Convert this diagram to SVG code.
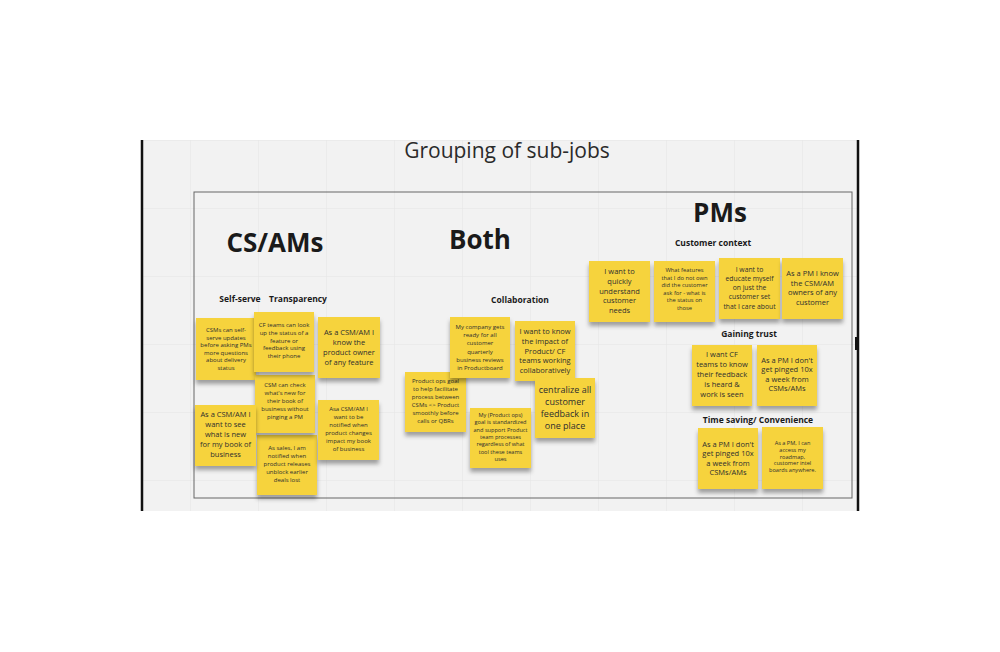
<svg xmlns="http://www.w3.org/2000/svg" width="1000" height="652" viewBox="0 0 1000 652">
<style>
.note rect{fill:#f6d33c;filter:url(#sh)}
.note text{font-family:"Open Sans","Noto Sans","Liberation Sans",sans-serif;fill:#2e2e2e;text-anchor:middle}
.hd{font-family:"Open Sans","Noto Sans","Liberation Sans",sans-serif;font-weight:700;fill:#1a1a1a;text-anchor:middle}
.sub{font-family:"Open Sans","Noto Sans","Liberation Sans",sans-serif;font-weight:700;font-size:8.5px;fill:#1a1a1a;text-anchor:middle}
.s6{font-size:6px}.s55{font-size:5.6px}.s58{font-size:5.8px}.s68{font-size:6.8px}.s75{font-size:7.5px}.s9{font-size:9px}
</style>
<defs>
<filter id="sh" x="-20%" y="-20%" width="140%" height="150%"><feDropShadow dx="0" dy="4" stdDeviation="2.2" flood-color="#000" flood-opacity="0.35"/></filter>
<pattern id="grid" x="190" y="140" width="68" height="68" patternUnits="userSpaceOnUse"><path d="M0 0V68M0 0H68" fill="none" stroke="#e4e4e4" stroke-width="1"/></pattern>
</defs>
<rect width="1000" height="652" fill="#fff"/>
<g id="board">
<rect x="142" y="140" width="716" height="371" fill="#f2f2f2"/>
<rect x="142" y="140" width="716" height="371" fill="url(#grid)"/>
<line x1="142" y1="140" x2="142" y2="511" stroke="#111" stroke-width="2.5"/>
<line x1="858" y1="140" x2="858" y2="511" stroke="#111" stroke-width="2.5"/>
<rect x="855" y="337" width="3" height="13" fill="#111"/>
<rect x="194" y="192" width="658" height="306" fill="none" stroke="#666" stroke-width="1"/>
<text x="507" y="158" font-family="'Open Sans','Noto Sans','Liberation Sans',sans-serif" font-size="21" fill="#2a2a2a" text-anchor="middle">Grouping of sub-jobs</text>
</g>
<g id="headers">
<text class="hd" x="275" y="252" font-size="26">CS/AMs</text>
<text class="hd" x="480" y="249" font-size="26">Both</text>
<text class="hd" x="720" y="222" font-size="26">PMs</text>
<text class="sub" x="240" y="302">Self-serve</text>
<text class="sub" x="298" y="302">Transparency</text>
<text class="sub" x="520" y="303">Collaboration</text>
<text class="sub" x="713" y="246">Customer context</text>
<text class="sub" x="749" y="337">Gaining trust</text>
<text class="sub" x="758" y="423">Time saving/ Convenience</text>
</g>
<g id="connectors"/>
<g id="note1" class="note"><rect x="196" y="318" width="60" height="62"/><text class="s6"><tspan x="226" y="332.4">CSMs can self-</tspan><tspan x="226" dy="7.5">serve updates</tspan><tspan x="226" dy="7.5">before asking PMs</tspan><tspan x="226" dy="7.5">more questions</tspan><tspan x="226" dy="7.5">about delivery</tspan><tspan x="226" dy="7.5">status</tspan></text></g>
<g id="note6" class="note"><rect x="257" y="435" width="60" height="60"/><text class="s6"><tspan x="287" y="450">As sales, I am</tspan><tspan x="287" dy="8">notified when</tspan><tspan x="287" dy="8">product releases</tspan><tspan x="287" dy="8">unblock earlier</tspan><tspan x="287" dy="8">deals lost</tspan></text></g>
<g id="note4" class="note"><rect x="255" y="375" width="60" height="58"/><text class="s6"><tspan x="285" y="387">CSM can check</tspan><tspan x="285" dy="8">what's new for</tspan><tspan x="285" dy="8">their book of</tspan><tspan x="285" dy="8">business without</tspan><tspan x="285" dy="8">pinging a PM</tspan></text></g>
<g id="note2" class="note"><rect x="254" y="312" width="60" height="60"/><text class="s6"><tspan x="284" y="327">CF teams can look</tspan><tspan x="284" dy="7.8">up the status of a</tspan><tspan x="284" dy="7.8">feature or</tspan><tspan x="284" dy="7.8">feedback using</tspan><tspan x="284" dy="7.8">their phone</tspan></text></g>
<g id="note3" class="note"><rect x="318" y="317" width="62" height="61"/><text class="s75"><tspan x="349" y="335.2">As a CSM/AM I</tspan><tspan x="349" dy="10">know the</tspan><tspan x="349" dy="10">product owner</tspan><tspan x="349" dy="10">of any feature</tspan></text></g>
<g id="note5" class="note"><rect x="195" y="405" width="61" height="61"/><text class="s75"><tspan x="225.5" y="417">As a CSM/AM I</tspan><tspan x="225.5" dy="10">want to see</tspan><tspan x="225.5" dy="10">what is new</tspan><tspan x="225.5" dy="10">for my book of</tspan><tspan x="225.5" dy="10">business</tspan></text></g>
<g id="note7" class="note"><rect x="318" y="400" width="61" height="60"/><text class="s6"><tspan x="348.5" y="411">Asa CSM/AM I</tspan><tspan x="348.5" dy="8">want to be</tspan><tspan x="348.5" dy="8">notified when</tspan><tspan x="348.5" dy="8">product changes</tspan><tspan x="348.5" dy="8">impact my book</tspan><tspan x="348.5" dy="8">of business</tspan></text></g>
<g id="note10" class="note"><rect x="405" y="372" width="61" height="60"/><text class="s6"><tspan x="435.5" y="383">Product ops goal</tspan><tspan x="435.5" dy="8">to help facilitate</tspan><tspan x="435.5" dy="8">process between</tspan><tspan x="435.5" dy="8">CSMs &lt;&gt; Product</tspan><tspan x="435.5" dy="8">smoothly before</tspan><tspan x="435.5" dy="8">calls or QBRs</tspan></text></g>
<g id="note8" class="note"><rect x="450" y="317" width="60" height="61"/><text class="s6"><tspan x="480" y="329">My company gets</tspan><tspan x="480" dy="8.2">ready for all</tspan><tspan x="480" dy="8.2">customer</tspan><tspan x="480" dy="8.2">quarterly</tspan><tspan x="480" dy="8.2">business reviews</tspan><tspan x="480" dy="8.2">in Productboard</tspan></text></g>
<g id="note9" class="note"><rect x="515" y="321" width="60" height="60"/><text class="s75"><tspan x="545" y="334">I want to know</tspan><tspan x="545" dy="9.8">the impact of</tspan><tspan x="545" dy="9.8">Product/ CF</tspan><tspan x="545" dy="9.8">teams working</tspan><tspan x="545" dy="9.8">collaboratively</tspan></text></g>
<g id="note11" class="note"><rect x="535" y="378" width="60" height="60"/><text class="s9"><tspan x="565" y="392.5">centralize all</tspan><tspan x="565" dy="12">customer</tspan><tspan x="565" dy="12">feedback in</tspan><tspan x="565" dy="12">one place</tspan></text></g>
<g id="note12" class="note"><rect x="470" y="408" width="61" height="60"/><text class="s55"><tspan x="500.5" y="417">My (Product ops)</tspan><tspan x="500.5" dy="7.3">goal is standardized</tspan><tspan x="500.5" dy="7.3">and support Product</tspan><tspan x="500.5" dy="7.3">team processes</tspan><tspan x="500.5" dy="7.3">regardless of what</tspan><tspan x="500.5" dy="7.3">tool these teams</tspan><tspan x="500.5" dy="7.3">uses</tspan></text></g>
<g id="note13" class="note"><rect x="589" y="261" width="61" height="61"/><text class="s75"><tspan x="619.5" y="274">I want to</tspan><tspan x="619.5" dy="9.8">quickly</tspan><tspan x="619.5" dy="9.8">understand</tspan><tspan x="619.5" dy="9.8">customer</tspan><tspan x="619.5" dy="9.8">needs</tspan></text></g>
<g id="note14" class="note"><rect x="654" y="261" width="61" height="61"/><text class="s58"><tspan x="684.5" y="272">What features</tspan><tspan x="684.5" dy="7.6">that I do not own</tspan><tspan x="684.5" dy="7.6">did the customer</tspan><tspan x="684.5" dy="7.6">ask for - what is</tspan><tspan x="684.5" dy="7.6">the status on</tspan><tspan x="684.5" dy="7.6">those</tspan></text></g>
<g id="note15" class="note"><rect x="719" y="258" width="61" height="61"/><text class="s68"><tspan x="749.5" y="271.5">I want to</tspan><tspan x="749.5" dy="9.3">educate myself</tspan><tspan x="749.5" dy="9.3">on just the</tspan><tspan x="749.5" dy="9.3">customer set</tspan><tspan x="749.5" dy="9.3">that I care about</tspan></text></g>
<g id="note16" class="note"><rect x="782" y="258" width="61" height="61"/><text class="s75"><tspan x="812.5" y="276">As a PM I know</tspan><tspan x="812.5" dy="9.7">the CSM/AM</tspan><tspan x="812.5" dy="9.7">owners of any</tspan><tspan x="812.5" dy="9.7">customer</tspan></text></g>
<g id="note17" class="note"><rect x="692" y="345" width="60" height="61"/><text class="s75"><tspan x="722" y="357">I want CF</tspan><tspan x="722" dy="10">teams to know</tspan><tspan x="722" dy="10">their feedback</tspan><tspan x="722" dy="10">is heard &amp;</tspan><tspan x="722" dy="10">work is seen</tspan></text></g>
<g id="note18" class="note"><rect x="757" y="345" width="60" height="61"/><text class="s75"><tspan x="787" y="362.5">As a PM I don't</tspan><tspan x="787" dy="9.6">get pinged 10x</tspan><tspan x="787" dy="9.6">a week from</tspan><tspan x="787" dy="9.6">CSMs/AMs</tspan></text></g>
<g id="note19" class="note"><rect x="698" y="428" width="60" height="61"/><text class="s75"><tspan x="728" y="446.5">As a PM I don't</tspan><tspan x="728" dy="9.6">get pinged 10x</tspan><tspan x="728" dy="9.6">a week from</tspan><tspan x="728" dy="9.6">CSMs/AMs</tspan></text></g>
<g id="note20" class="note"><rect x="762" y="427" width="61" height="62"/><text class="s55"><tspan x="792.5" y="445">As a PM, I can</tspan><tspan x="792.5" dy="6.8">access my</tspan><tspan x="792.5" dy="6.8">roadmap,</tspan><tspan x="792.5" dy="6.8">customer intel</tspan><tspan x="792.5" dy="6.8">boards anywhere.</tspan></text></g>
</svg>
